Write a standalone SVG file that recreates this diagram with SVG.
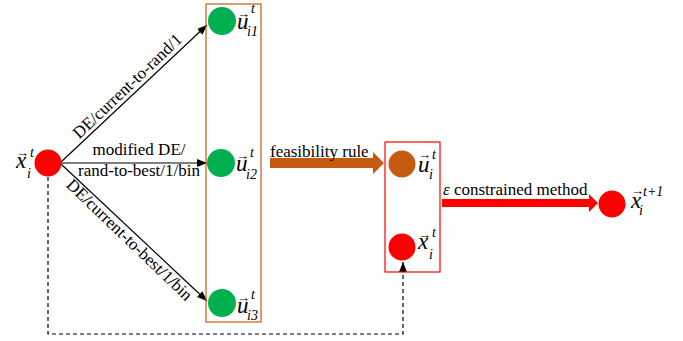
<svg xmlns="http://www.w3.org/2000/svg" width="683" height="341" viewBox="0 0 683 341" font-family="Liberation Serif">
<defs>
<marker id="ah" viewBox="0 0 10 8" refX="10" refY="4" markerWidth="10" markerHeight="8" markerUnits="userSpaceOnUse" orient="auto">
<path d="M0,0 L10,4 L0,8 Z" fill="#000"/>
</marker>
</defs>
<rect width="683" height="341" fill="#fff"/>

<g id="connectors" stroke="#000" stroke-width="1.2" fill="none">
<line x1="61" y1="162" x2="207" y2="25" marker-end="url(#ah)"/>
<line x1="61" y1="163" x2="207" y2="163" marker-end="url(#ah)"/>
<line x1="61" y1="164" x2="207" y2="301" marker-end="url(#ah)"/>
<path d="M48,177 V334 H403 V262" stroke-dasharray="4,3" marker-end="url(#ah)"/>
<polygon points="270,158 373,158 373,152 384,163 373,174 373,168 270,168" fill="#C55A11" stroke="none"/>
<polygon points="442,199 589,199 589,194 598,203 589,212 589,207 442,207" fill="#FF0000" stroke="none"/>
</g>

<g id="labels" font-family="Liberation Serif" font-size="17" fill="#000">
<text transform="translate(134,93) rotate(-43.6)" x="0" y="-4" text-anchor="middle">DE/current-to-rand/1</text>
<text x="139" y="155" text-anchor="middle">modified DE/</text>
<text x="139" y="176" text-anchor="middle">rand-to-best/1/bin</text>
<text transform="translate(136,233) rotate(43.8)" x="0" y="15" text-anchor="middle">DE/current-to-best/1/bin</text>
<text x="270" y="157">feasibility rule</text>
<text x="443" y="195"><tspan font-style="italic">ε</tspan> constrained method</text>
</g>

<g id="node-xi" font-family="Liberation Serif">
<circle cx="48" cy="163" r="13.5" fill="#FF0000"/>
<text x="16" y="168" font-size="23" font-style="italic">x<tspan x="16" y="157" font-size="13" font-style="normal">→</tspan><tspan x="30" y="157" font-size="14">t</tspan><tspan x="27" y="178" font-size="14">i</tspan></text>
</g>

<g id="box-trials">
<rect x="206" y="4" width="55" height="318" fill="none" stroke="#C65911" stroke-width="1.2"/>
</g>

<g id="node-ui1" font-family="Liberation Serif">
<circle cx="222" cy="21" r="14" fill="#00B050"/>
<text x="237" y="29" font-size="23" font-style="italic">u<tspan x="237" y="18" font-size="13" font-style="normal">→</tspan><tspan x="251" y="13" font-size="14">t</tspan><tspan x="247" y="36" font-size="14">i1</tspan></text>
</g>

<g id="node-ui2" font-family="Liberation Serif">
<circle cx="221" cy="163" r="14" fill="#00B050"/>
<text x="236" y="171" font-size="23" font-style="italic">u<tspan x="236" y="160" font-size="13" font-style="normal">→</tspan><tspan x="250" y="157" font-size="14">t</tspan><tspan x="246" y="179" font-size="14">i2</tspan></text>
</g>

<g id="node-ui3" font-family="Liberation Serif">
<circle cx="222" cy="303" r="14" fill="#00B050"/>
<text x="237" y="313" font-size="23" font-style="italic">u<tspan x="237" y="302" font-size="13" font-style="normal">→</tspan><tspan x="251" y="299" font-size="14">t</tspan><tspan x="247" y="320" font-size="14">i3</tspan></text>
</g>

<g id="box-select">
<rect x="385" y="142" width="55" height="130" fill="none" stroke="#FF0000" stroke-width="1.2"/>
</g>

<g id="node-ui" font-family="Liberation Serif">
<circle cx="402" cy="164" r="13.5" fill="#C55A11"/>
<text x="418" y="172" font-size="23" font-style="italic">u<tspan x="418" y="159" font-size="13" font-style="normal">→</tspan><tspan x="432" y="159" font-size="14">t</tspan><tspan x="429" y="179" font-size="14">i</tspan></text>
</g>

<g id="node-xi-box" font-family="Liberation Serif">
<circle cx="402" cy="247" r="13.5" fill="#FF0000"/>
<text x="418" y="249" font-size="23" font-style="italic">x<tspan x="418" y="239" font-size="13" font-style="normal">→</tspan><tspan x="432" y="237" font-size="14">t</tspan><tspan x="429" y="259" font-size="14">i</tspan></text>
</g>

<g id="node-xi-next" font-family="Liberation Serif">
<circle cx="612" cy="204" r="13.5" fill="#FF0000"/>
<text x="631" y="208" font-size="23" font-style="italic">x<tspan x="631" y="195" font-size="13" font-style="normal">→</tspan><tspan x="643" y="196" font-size="14">t+1</tspan><tspan x="639" y="215" font-size="14">i</tspan></text>
</g>
</svg>
